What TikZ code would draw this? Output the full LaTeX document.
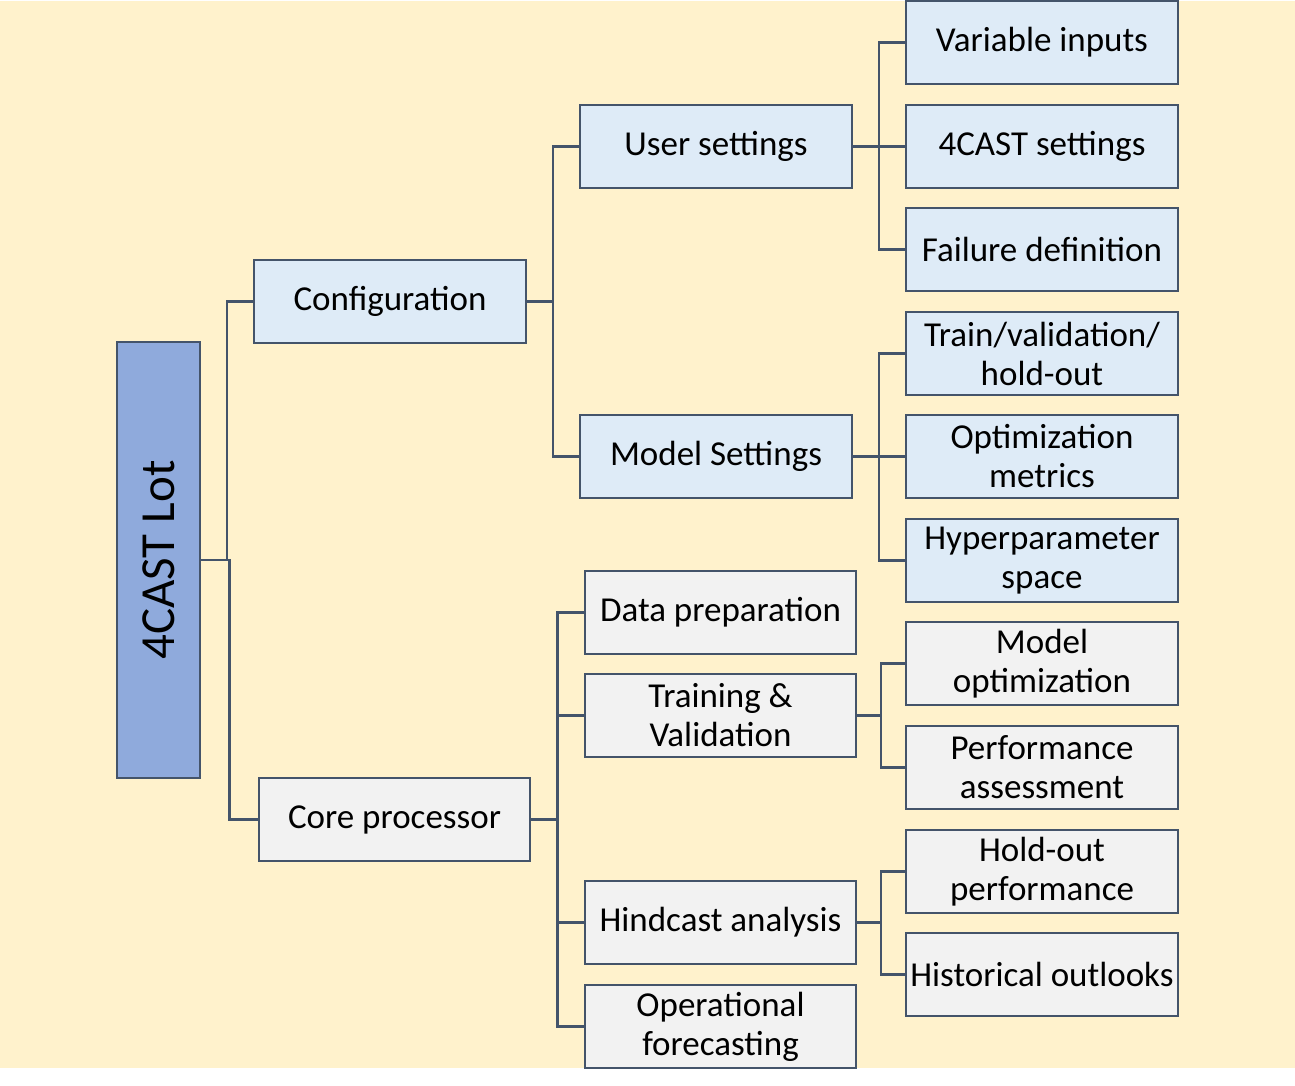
\documentclass[tikz,border=0pt]{standalone}
\usepackage{fontspec}
\usepackage{graphicx}
\setmainfont{Carlito}
\usetikzlibrary{calc}
\definecolor{bgcream}{HTML}{FFF2CC}
\definecolor{lblue}{HTML}{DEEBF7}
\definecolor{lgray}{HTML}{F2F2F2}
\definecolor{rootblue}{HTML}{8FAADC}
\definecolor{edgec}{HTML}{44546A}
\tikzset{
 box/.style={draw=edgec, line width=2.5pt, minimum width=272pt, minimum height=83pt, inner sep=0pt, align=center, font=\fontsize{35}{39}\selectfont},
 bluebox/.style={box, fill=lblue},
 graybox/.style={box, fill=lgray},
 rootbox/.style={draw=edgec, fill=rootblue, line width=2.5pt, minimum width=83pt, minimum height=436pt, inner sep=0pt, font=\fontsize{49}{56}\selectfont},
 conn/.style={draw=edgec, line width=2.2pt},
}
\newcommand\treelink[2]{\draw[conn] (#1.east) -- ($(#1.east)!0.5!(#2.west |- #1.east)$) |- (#2.west);}
\begin{document}
\begin{tikzpicture}[x=1pt,y=-1pt]
\useasboundingbox (0,0) rectangle (1295,1086);
\fill[white] (0,0) rectangle (1295,1086);
\fill[bgcream] (0,1) rectangle (1295,1068);

\node[rootbox] (root) at (158.5,560) {\rotatebox{90}{4CAST Lot}};
\node[bluebox] (conf) at (390,301.5) {Configuration};
\node[graybox, minimum width=271pt] (core) at (394.5,819.5) {Core processor};
\node[bluebox] (user) at (716,146.5) {User settings};
\node[bluebox] (model) at (716,456.5) {Model Settings};
\node[bluebox] (var) at (1042,42.5) {Variable inputs};
\node[bluebox] (cset) at (1042,146.5) {4CAST settings};
\node[bluebox] (fail) at (1042,249.5) {Failure definition};
\node[bluebox] (train) at (1042,353.5) {Train/validation/\\hold-out};
\node[bluebox] (optm) at (1042,456.5) {Optimization\\metrics};
\node[bluebox] (hyper) at (1042,560.5) {Hyperparameter\\space};
\node[graybox, minimum width=271pt] (dprep) at (720.5,612.5) {Data preparation};
\node[graybox, minimum width=271pt] (trval) at (720.5,715.5) {Training \&\\Validation};
\node[graybox, minimum width=271pt] (hind) at (720.5,922.5) {Hindcast analysis};
\node[graybox, minimum width=271pt] (oper) at (720.5,1026.5) {Operational\\forecasting};
\node[graybox] (mopt) at (1042,663.5) {Model\\optimization};
\node[graybox] (perf) at (1042,767.5) {Performance\\assessment};
\node[graybox] (hold) at (1042,871.5) {Hold-out\\performance};
\node[graybox] (hist) at (1042,974.5) {Historical outlooks};

\treelink{root}{conf}
\treelink{root}{core}
\treelink{conf}{user}
\treelink{conf}{model}
\treelink{user}{var}
\treelink{user}{cset}
\treelink{user}{fail}
\treelink{model}{train}
\treelink{model}{optm}
\treelink{model}{hyper}
\treelink{core}{dprep}
\treelink{core}{trval}
\treelink{core}{hind}
\treelink{core}{oper}
\treelink{trval}{mopt}
\treelink{trval}{perf}
\treelink{hind}{hold}
\treelink{hind}{hist}
\end{tikzpicture}
\end{document}
